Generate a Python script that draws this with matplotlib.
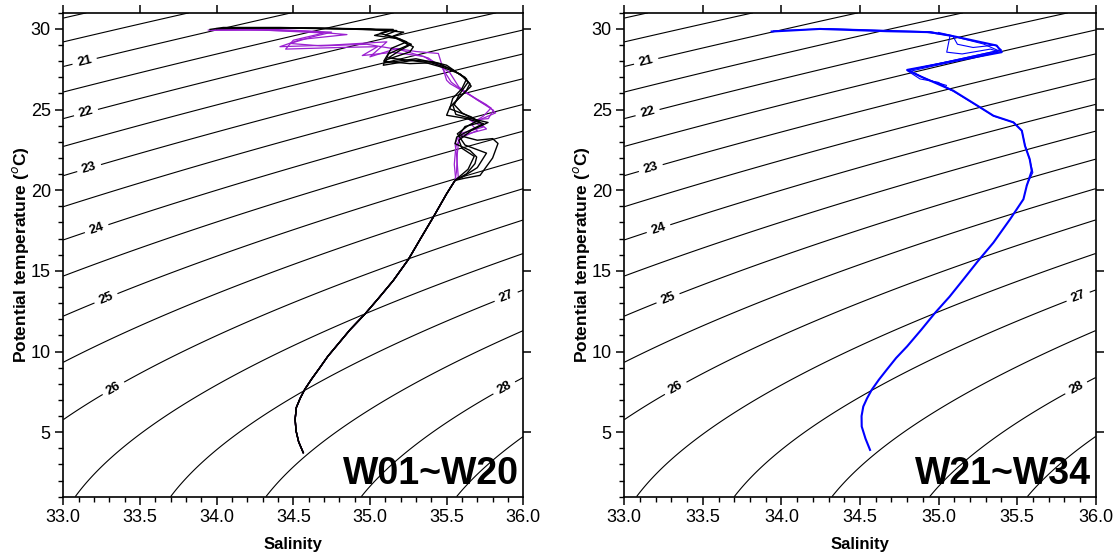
import numpy as np
import matplotlib
matplotlib.use('Agg')
import matplotlib.pyplot as plt
from matplotlib.ticker import MultipleLocator, FormatStrFormatter
from matplotlib.font_manager import FontProperties

plt.rcParams['font.family'] = ['Liberation Sans', 'DejaVu Sans']

# perfis (salinidade, temperatura potencial), da superficie para o fundo
# parte profunda comum aos perfis W01~W20
deep_s = [35.555, 35.50, 35.413, 35.33, 35.25, 35.152, 35.06, 34.968, 34.87, 34.783, 34.725,
          34.674, 34.62, 34.576, 34.545, 34.52, 34.512, 34.518, 34.535, 34.565]
deep_t = [20.61, 19.78, 18.33, 17.0, 15.7, 14.40, 13.35, 12.33, 11.35, 10.36, 9.7,
          9.01, 8.3, 7.67, 7.1, 6.53, 5.8, 5.08, 4.4, 3.73]

black_a_s = [33.957, 34.043, 34.413, 34.739, 35.152, 35.065, 35.152, 35.196, 35.283, 35.261, 35.098,
             35.087, 35.283, 35.413, 35.50, 35.61, 35.652, 35.63, 35.566, 35.522, 35.50, 35.63,
             35.74, 35.674, 35.566, 35.555, 35.652, 35.696, 35.685, 35.63]
black_a_t = [29.97, 30.09, 30.09, 30.03, 29.97, 29.72, 29.51, 29.30, 28.89, 28.58, 28.06,
             27.75, 28.06, 27.96, 27.75, 27.02, 26.61, 26.2, 25.58, 25.16, 24.65, 24.44,
             24.13, 23.82, 23.30, 22.89, 22.47, 22.06, 21.65, 21.02]

black_b_s = [34.05, 34.5, 34.9, 35.175, 35.10, 35.20, 35.25, 35.12, 35.10, 35.30, 35.45, 35.55,
             35.63, 35.60, 35.54, 35.52, 35.66, 35.72, 35.62, 35.58, 35.70, 35.80, 35.835,
             35.80, 35.718, 35.62]
black_b_t = [30.05, 30.05, 29.98, 29.90, 29.62, 29.35, 29.0, 28.45, 27.9, 28.15, 27.85, 27.4,
             26.9, 26.3, 25.7, 25.05, 24.55, 24.2, 23.95, 23.4, 23.1, 23.2, 22.9,
             22.0, 20.92, 20.75]

black_c_s = [34.10, 34.6, 35.0, 35.12, 35.03, 35.18, 35.27, 35.20, 35.12, 35.35, 35.48, 35.59,
             35.64, 35.58, 35.55, 35.60, 35.70, 35.64, 35.57, 35.62, 35.76, 35.70, 35.60]
black_c_t = [30.08, 30.06, 30.0, 29.85, 29.6, 29.4, 29.05, 28.7, 28.2, 27.95, 27.6, 27.2,
             26.7, 25.9, 25.3, 24.8, 24.3, 24.0, 23.5, 22.8, 22.3, 21.4, 20.8]

black_d_s = [34.00, 34.4, 34.8, 35.05, 35.22, 35.15, 35.24, 35.14, 35.09, 35.26, 35.40, 35.52,
             35.62, 35.66, 35.59, 35.54, 35.56, 35.68, 35.77, 35.66, 35.58, 35.60, 35.68, 35.64]
black_d_t = [30.02, 30.07, 30.02, 29.95, 29.80, 29.55, 29.2, 28.8, 28.0, 27.85, 27.9, 27.55,
             27.0, 26.45, 25.8, 25.3, 24.7, 24.4, 24.2, 23.7, 23.1, 22.6, 22.1, 21.3]

purple_a_s = [33.946, 34.2, 34.6, 34.85, 34.55, 34.413, 34.75, 35.11, 35.0, 35.175, 35.30,
              35.446, 35.50, 35.522, 35.652, 35.805, 35.772, 35.652, 35.74, 35.587, 35.555,
              35.566, 35.576]
purple_a_t = [29.93, 29.95, 29.85, 29.65, 29.35, 28.9, 29.0, 29.2, 28.27, 28.79, 28.6,
              28.48, 26.82, 26.61, 25.89, 24.96, 24.44, 24.34, 23.92, 23.51, 22.89,
              22.06, 20.81]

purple_b_s = [33.96, 34.3, 34.7, 34.5, 34.45, 34.8, 35.05, 34.95, 35.15, 35.35, 35.47, 35.53,
              35.60, 35.76, 35.82, 35.70, 35.76, 35.60, 35.56, 35.55, 35.56]
purple_b_t = [29.92, 29.93, 29.75, 29.3, 28.75, 28.85, 28.9, 28.35, 28.55, 28.3, 27.6, 26.7,
              26.2, 25.3, 24.8, 24.3, 23.8, 23.4, 22.7, 21.6, 20.6]

purple_c_s = [33.98, 34.4, 34.75, 34.62, 34.48, 34.68, 34.98, 35.2, 35.38, 35.52, 35.58,
              35.70, 35.79, 35.74, 35.66, 35.70, 35.58, 35.57, 35.565]
purple_c_t = [29.95, 29.96, 29.8, 29.5, 29.1, 28.95, 29.05, 28.7, 28.2, 27.3, 26.4,
              25.6, 25.1, 24.6, 24.1, 23.7, 23.2, 22.3, 21.2]

# perfis W21~W34
blue_a_s = [33.938, 34.245, 34.67, 34.946, 35.094, 35.37, 35.402, 34.80, 34.882, 35.03, 35.094,
            35.264, 35.349, 35.476, 35.53, 35.55, 35.58, 35.593, 35.561, 35.54, 35.455, 35.349,
            35.25, 35.158, 35.07, 34.978, 34.89, 34.80, 34.73, 34.67, 34.62, 34.575, 34.545,
            34.521, 34.51, 34.511, 34.535, 34.564]
blue_a_t = [29.84, 30.0, 29.86, 29.80, 29.55, 28.97, 28.56, 27.46, 27.07, 26.44, 26.17,
            25.14, 24.62, 24.21, 23.69, 22.75, 21.93, 21.2, 20.27, 19.44, 18.2, 16.75,
            15.6, 14.47, 13.4, 12.40, 11.35, 10.32, 9.6, 8.87, 8.25, 7.63, 7.1,
            6.59, 6.0, 5.35, 4.6, 3.90]

blue_b_s = [33.95, 34.3, 34.7, 34.95, 35.073, 35.285, 35.38, 34.80, 34.882, 34.998, 35.10,
            35.27, 35.35, 35.48, 35.53, 35.55, 35.58, 35.60, 35.56]
blue_b_t = [29.88, 30.02, 29.9, 29.82, 29.59, 29.07, 28.66, 27.42, 26.9, 26.69, 26.1,
            25.1, 24.6, 24.2, 23.7, 22.8, 21.9, 21.1, 20.3]

blue_c_s = [34.9, 35.073, 35.052, 35.15, 35.33, 35.38, 34.82, 34.93, 35.05]
blue_c_t = [29.82, 29.59, 28.56, 28.45, 28.75, 28.6, 27.38, 26.85, 26.5]

blue_d_s = [35.0, 35.09, 35.12, 35.22, 35.36, 35.40, 34.81, 34.90, 35.00, 35.08]
blue_d_t = [29.78, 29.58, 29.05, 28.85, 29.0, 28.7, 27.45, 27.0, 26.6, 26.2]

# isopicnais: inteiras com rotulo, meias sem rotulo
label_levels = [21, 22, 23, 24, 25, 26, 27, 28]
half_levels = [20.0, 20.5, 21.5, 22.5, 23.5, 24.5, 25.5, 26.5, 27.5, 28.5, 29.0]
label_pos = [(33.14, 27.96), (33.15, 24.75), (33.17, 21.33), (33.22, 17.55),
             (33.28, 13.26), (33.33, 7.67), (35.89, 13.36), (35.88, 7.67)]


def sigma0(S, T):
    # UNESCO 1980, pressao zero
    rw = (999.842594 + 6.793952e-2*T - 9.095290e-3*T**2 + 1.001685e-4*T**3
          - 1.120083e-6*T**4 + 6.536332e-9*T**5)
    A = 0.824493 - 4.0899e-3*T + 7.6438e-5*T**2 - 8.2467e-7*T**3 + 5.3875e-9*T**4
    B = -5.72466e-3 + 1.0227e-4*T - 1.6546e-6*T**2
    return rw + A*S + B*S**1.5 + 4.8314e-4*S**2 - 1000.0


sg, tg = np.meshgrid(np.linspace(33, 36, 301), np.linspace(1, 31, 301))
dens = sigma0(sg, tg)

fig = plt.figure(figsize=(11.16, 5.57), dpi=100)
ax1 = fig.add_axes([0.0567, 0.1083, 0.4122, 0.8687])
ax2 = fig.add_axes([0.5594, 0.1083, 0.4224, 0.8687])

purple = '#9a1fd0'
lab_font = FontProperties(family='Liberation Sans', weight='bold', size=9.5)
for ax in (ax1, ax2):
    ax.contour(sg, tg, dens, levels=half_levels, colors='k', linewidths=0.8)
    cs = ax.contour(sg, tg, dens, levels=label_levels, colors='k', linewidths=0.8)
    cl = ax.clabel(cs, fmt='%d', fontsize=9.5, inline=True, inline_spacing=5, manual=label_pos)
    for t in cl:
        t.set_fontproperties(lab_font)

for s, t in [(purple_a_s + deep_s, purple_a_t + deep_t), (purple_b_s + deep_s, purple_b_t + deep_t),
             (purple_c_s + deep_s, purple_c_t + deep_t)]:
    ax1.plot(s, t, color=purple, lw=0.9)
for s, t in [(black_a_s + deep_s, black_a_t + deep_t), (black_b_s + deep_s, black_b_t + deep_t),
             (black_c_s + deep_s, black_c_t + deep_t), (black_d_s + deep_s, black_d_t + deep_t)]:
    ax1.plot(s, t, color='k', lw=1.0)

ax2.plot(blue_a_s, blue_a_t, color='#0000ff', lw=1.5)
for s, t in [(blue_b_s, blue_b_t), (blue_c_s, blue_c_t), (blue_d_s, blue_d_t)]:
    ax2.plot(s, t, color='#0000ff', lw=0.8)

for ax, name, lx in [(ax1, 'W01~W20', -0.071), (ax2, 'W21~W34', -0.069)]:
    ax.set_xlim(33, 36)
    ax.set_ylim(1, 31)
    ax.xaxis.set_major_locator(MultipleLocator(0.5))
    ax.xaxis.set_minor_locator(MultipleLocator(0.1))
    ax.xaxis.set_major_formatter(FormatStrFormatter('%.1f'))
    ax.yaxis.set_major_locator(MultipleLocator(5))
    ax.yaxis.set_minor_locator(MultipleLocator(1))
    ax.tick_params(which='major', direction='out', length=6, width=1.1, top=True, right=True,
                   labelsize=13, pad=3)
    ax.tick_params(which='minor', direction='out', length=3.5, width=1.0, top=False, right=False)
    for sp in ax.spines.values():
        sp.set_linewidth(1.2)
    ax.set_xlabel('Salinity', fontsize=12, fontweight='bold', labelpad=8)
    ax.set_ylabel(r'Potential temperature ($^o$C)', fontsize=12.5, fontweight='bold')
    ax.yaxis.set_label_coords(lx, 0.5)
    ax.text(0.99, 0.027, name, transform=ax.transAxes, ha='right', va='baseline',
            fontsize=27, fontweight='bold')

fig.savefig('out.png', dpi=100)
